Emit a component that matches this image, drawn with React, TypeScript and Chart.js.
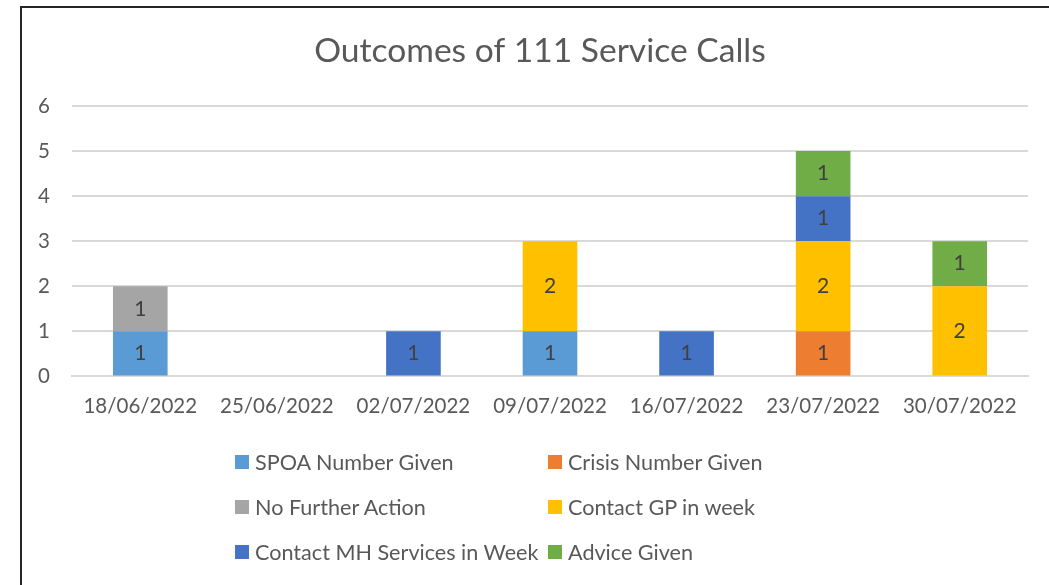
import React, { useEffect, useRef } from "react";
import { Chart, registerables } from "chart.js";

Chart.register(...registerables);

const chartTitle = "Outcomes of 111 Service Calls";
const categories = ["18/06/2022", "25/06/2022", "02/07/2022", "09/07/2022", "16/07/2022", "23/07/2022", "30/07/2022"];
const seriesNames = ["SPOA Number Given", "Crisis Number Given", "No Further Action", "Contact GP in week", "Contact MH Services in Week", "Advice Given"];
const seriesColors = ["#5B9BD5", "#ED7D31", "#A5A5A5", "#FFC000", "#4472C4", "#70AD47"];
const spoa = [1, null, null, 1, null, null, null];
const crisis = [null, null, null, null, null, 1, null];
const noFurther = [1, null, null, null, null, null, null];
const contactGP = [null, null, null, 2, null, 2, 2];
const contactMH = [null, null, 1, null, 1, 1, null];
const advice = [null, null, null, null, null, 1, 1];
const seriesValues = [spoa, crisis, noFurther, contactGP, contactMH, advice];
const yTicks = [0, 1, 2, 3, 4, 5, 6];

const FONT = "Lato, 'Open Sans', sans-serif";

const labelPlugin = {
  id: "segLabels",
  afterDatasetsDraw(chart: any) {
    const ctx = chart.ctx;
    ctx.save();
    ctx.fillStyle = "#404040";
    ctx.font = `21px ${FONT}`;
    ctx.textAlign = "center";
    ctx.textBaseline = "middle";
    chart.data.datasets.forEach((ds: any, i: number) => {
      const meta = chart.getDatasetMeta(i);
      meta.data.forEach((bar: any, j: number) => {
        const v = ds.data[j];
        if (v == null || v === 0) return;
        const { x, y, base } = bar.getProps(["x", "y", "base"], true);
        ctx.fillText(String(v), x, (y + base) / 2);
      });
    });
    ctx.restore();
  },
};

const titlePlugin = {
  id: "offsetTitle",
  afterDraw(chart: any) {
    const ctx = chart.ctx;
    ctx.save();
    ctx.fillStyle = "#595959";
    ctx.font = `33.6px ${FONT}`;
    ctx.textAlign = "center";
    ctx.textBaseline = "middle";
    ctx.fillText(chartTitle, 540, 51);
    ctx.restore();
  },
};

export default function App() {
  const ref = useRef<HTMLCanvasElement>(null);
  useEffect(() => {
    if (!ref.current) return;
    const chart = new Chart(ref.current, {
      type: "bar",
      data: {
        labels: categories,
        datasets: seriesNames.map((name, i) => ({
          label: name,
          data: seriesValues[i],
          backgroundColor: seriesColors[i],
          borderWidth: 0,
          barPercentage: 0.4,
          categoryPercentage: 1,
        })),
      },
      options: {
        animation: false,
        responsive: false,
        maintainAspectRatio: false,
        layout: { padding: { left: 0, right: 21, top: 106, bottom: 148 } },
        plugins: {
          legend: { display: false },
          tooltip: { enabled: false },
          title: { display: false },
        },
        scales: {
          x: {
            stacked: true,
            grid: { display: false, drawTicks: false },
            border: { display: true, color: "#D9D9D9", width: 2 },
            ticks: { color: "#595959", font: { family: FONT, size: 20.5 }, padding: 18, maxRotation: 0 },
          },
          y: {
            stacked: true,
            min: 0,
            max: 6,
            afterFit(scale: any) {
              scale.width = 72;
            },
            afterBuildTicks(scale: any) {
              scale.ticks = yTicks.map((v) => ({ value: v }));
            },
            grid: { color: "#D9D9D9", lineWidth: 2, drawTicks: false },
            border: { display: false },
            ticks: { color: "#595959", font: { family: FONT, size: 20.5 }, padding: 22 },
          },
        },
      },
      plugins: [labelPlugin, titlePlugin],
    });
    return () => chart.destroy();
  }, []);

  return (
    <div style={{ position: "fixed", left: 0, top: 0, width: 1049, height: 585, background: "#fff", overflow: "hidden", fontFamily: FONT }}>
      <div style={{ position: "absolute", left: 20, top: 6, width: 1100, height: 700, border: "2px solid #262626", boxSizing: "border-box" }} />
      <canvas ref={ref} width={1049} height={585} style={{ position: "absolute", left: 0, top: 0 }} />
      {seriesNames.map((name, i) => {
        const row = Math.floor(i / 2);
        const col = i % 2;
        return (
          <div
            key={name}
            style={{
              position: "absolute",
              left: col === 0 ? 235 : 548,
              top: 462 + row * 45 - 14,
              height: 28,
              display: "flex",
              alignItems: "center",
              whiteSpace: "nowrap",
              color: "#595959",
              fontSize: 21.6,
            }}
          >
            <span style={{ display: "inline-block", width: 14, height: 14, background: seriesColors[i], marginRight: 6 }} />
            {name}
          </div>
        );
      })}
    </div>
  );
}
